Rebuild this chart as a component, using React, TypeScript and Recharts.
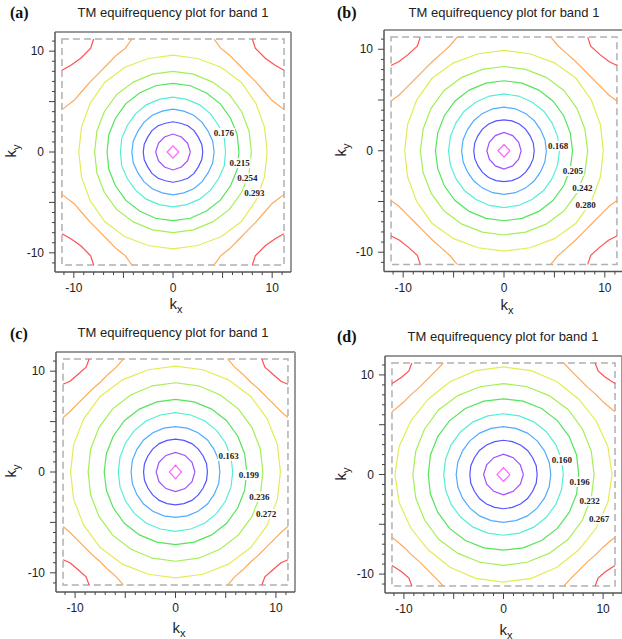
import React from 'react';
import { ScatterChart, Scatter, XAxis, YAxis, ReferenceArea, ReferenceLine } from 'recharts';

// ---------- data ----------
// ring colours, innermost to outermost, then the two open corner contours
const ringColors = ['#ff66ff', '#a050ff', '#5555ff', '#50acff', '#55eed4', '#55e45a', '#a6ee55', '#e2ec55'];
const orangeColor = '#ffaa5a';
const redColor = '#ff5050';

// radius (k units) of each closed contour, sampled at evenly spaced directions from 0° to 90°
const radiiA = [
  [0.6, 0.42, 0.6],
  [1.75, 1.7, 1.72, 1.78],
  [3.0, 3.0, 2.95, 3.0, 3.0, 2.95, 3.0],
  [4.15, 4.15, 4.1, 4.15, 4.2, 4.2, 4.25],
  [5.3, 5.35, 5.3, 5.35, 5.4, 5.4, 5.45],
  [6.65, 6.7, 6.7, 6.75, 6.75, 6.8, 6.8],
  [7.9, 7.95, 8.0, 8.05, 8.0, 8.0, 8.0],
  [9.5, 9.55, 9.65, 9.75, 9.7, 9.6, 9.6],
];
const radiiB = [
  [0.6, 0.42, 0.62],
  [1.7, 1.68, 1.72, 1.8],
  [3.0, 3.0, 2.98, 3.02, 3.05, 3.05, 3.05],
  [4.2, 4.2, 4.18, 4.22, 4.25, 4.28, 4.3],
  [5.5, 5.5, 5.5, 5.55, 5.55, 5.58, 5.6],
  [6.8, 6.8, 6.85, 6.9, 6.9, 6.9, 6.9],
  [8.3, 8.3, 8.35, 8.4, 8.35, 8.3, 8.3],
  [9.85, 9.9, 10.0, 10.1, 10.0, 9.9, 9.9],
];
const radiiC = [
  [0.62, 0.45, 0.68],
  [1.93, 1.9, 1.9, 1.95],
  [3.18, 3.2, 3.18, 3.22, 3.25, 3.25, 3.25],
  [4.42, 4.45, 4.45, 4.5, 4.5, 4.5, 4.5],
  [5.7, 5.72, 5.75, 5.8, 5.85, 5.85, 5.88],
  [7.1, 7.12, 7.15, 7.2, 7.2, 7.2, 7.2],
  [8.7, 8.75, 8.8, 8.85, 8.85, 8.85, 8.85],
  [10.45, 10.5, 10.55, 10.6, 10.55, 10.5, 10.5],
];
const radiiD = [
  [0.65, 0.47, 0.68],
  [2.0, 1.95, 1.95, 2.05],
  [3.38, 3.4, 3.38, 3.42, 3.42, 3.42, 3.44],
  [4.75, 4.75, 4.75, 4.78, 4.8, 4.8, 4.8],
  [6.0, 6.02, 6.05, 6.08, 6.1, 6.1, 6.1],
  [7.55, 7.6, 7.62, 7.65, 7.65, 7.62, 7.6],
  [9.1, 9.12, 9.15, 9.2, 9.15, 9.12, 9.13],
  [10.9, 10.85, 10.75, 10.7, 10.75, 10.8, 10.8],
];

// open contours near the zone corner (top-left corner, mirrored to the others)
const orangeA = [[-4.15, 11.2], [-4.8, 10.3], [-5.7, 9.6], [-6.7, 8.6], [-7.5, 7.8], [-8.4, 6.9], [-9.2, 6.0], [-10.0, 5.1], [-11.2, 4.2]];
const redA = [[-8.0, 11.2], [-8.3, 10.3], [-9.3, 9.3], [-10.3, 8.6], [-11.2, 8.1]];
const orangeB = [[-4.65, 11.2], [-5.3, 10.4], [-6.2, 9.6], [-7.1, 8.8], [-7.9, 8.0], [-8.8, 7.1], [-9.6, 6.3], [-10.4, 5.5], [-11.2, 4.9]];
const redB = [[-8.3, 11.2], [-8.6, 10.3], [-9.5, 9.5], [-10.4, 8.8], [-11.2, 8.4]];
const orangeC = [[-5.2, 11.2], [-5.9, 10.4], [-6.7, 9.7], [-7.5, 8.9], [-8.3, 8.2], [-9.1, 7.4], [-9.9, 6.6], [-10.6, 5.9], [-11.2, 5.4]];
const redC = [[-8.6, 11.2], [-8.9, 10.4], [-9.7, 9.7], [-10.5, 9.0], [-11.2, 8.7]];
const orangeD = [[-6.05, 11.2], [-6.8, 10.4], [-7.6, 9.6], [-8.4, 8.8], [-9.2, 8.1], [-10.0, 7.3], [-10.7, 6.7], [-11.2, 6.3]];
const redD = [[-9.2, 11.2], [-9.5, 10.4], [-10.2, 9.8], [-10.8, 9.4], [-11.2, 9.15]];

// contour level labels and where they sit (kx, ky)
const levelTextA = ['0.176', '0.215', '0.254', '0.293'];
const levelTextB = ['0.168', '0.205', '0.242', '0.280'];
const levelTextC = ['0.163', '0.199', '0.236', '0.272'];
const levelTextD = ['0.160', '0.196', '0.232', '0.267'];
const levelAtA = [[5.13, 1.9], [6.73, -1.1], [7.5, -2.6], [8.2, -4.1]];
const levelAtB = [[5.36, 0.5], [6.84, -2.0], [7.77, -3.68], [8.1, -5.33]];
const levelAtC = [[5.3, 1.6], [7.3, -0.3], [8.36, -2.46], [9.02, -4.15]];
const levelAtD = [[5.87, 1.44], [7.64, -0.74], [8.64, -2.65], [9.6, -4.5]];

// axis ticks
const tickValues = [-11, -10, -9, -8, -7, -6, -5, -4, -3, -2, -1, 0, 1, 2, 3, 4, 5, 6, 7, 8, 9, 10, 11];
const tickLabels = [-10, 0, 10];
const axisDomain = [-11.9, 11.9];
const zoneBox = [-11.2, 11.2];

const titleText = 'TM equifrequency plot for band 1';

// ---------- helpers ----------
function ringPoints(r: number[]) {
  const n = r.length - 1;
  const step = 90 / n;
  const pts: { x: number; y: number }[] = [];
  for (let k = 0; k <= 4 * n; k++) {
    const m = k % (2 * n);
    const rad = m <= n ? r[m] : r[2 * n - m];
    const a = (k * step * Math.PI) / 180;
    pts.push({ x: rad * Math.cos(a), y: rad * Math.sin(a) });
  }
  return pts;
}

function cornerCopies(pts: number[][]) {
  const out: { x: number; y: number }[][] = [];
  for (const sx of [1, -1]) {
    for (const sy of [1, -1]) {
      out.push(pts.map(([x, y]) => ({ x: x * sx, y: y * sy })));
    }
  }
  return out;
}

const SANS = '"Liberation Sans", Arial, sans-serif';
const SERIF = '"Liberation Serif", "Times New Roman", serif';

const XTick = (props: any) => {
  const { x, y, payload } = props;
  const v = payload.value;
  const major = v % 5 === 0;
  return (
    <g>
      <line x1={x} x2={x} y1={y} y2={y + (major ? 6 : 3)} stroke="#444" strokeWidth={1} />
      {tickLabels.includes(v) && (
        <text x={x} y={y + 16} textAnchor="middle" dominantBaseline="central" fontFamily={SANS} fontSize={12} fill="#222">
          {String(v)}
        </text>
      )}
    </g>
  );
};

const YTick = (props: any) => {
  const { x, y, payload } = props;
  const v = payload.value;
  const major = v % 5 === 0;
  return (
    <g>
      <line x1={x} x2={x - (major ? 6 : 3)} y1={y} y2={y} stroke="#444" strokeWidth={1} />
      {tickLabels.includes(v) && (
        <text x={x - 11} y={y} textAnchor="end" dominantBaseline="central" fontFamily={SANS} fontSize={12} fill="#222">
          {String(v)}
        </text>
      )}
    </g>
  );
};

const NoDot = () => <g />;

const LevelLabel = (props: any) => {
  const { cx, cy, payload } = props;
  return (
    <g>
      <rect x={cx - 11} y={cy - 5} width={22} height={10} fill="#fff" />
      <text x={cx} y={cy} textAnchor="middle" dominantBaseline="central" fontFamily={SERIF} fontWeight="bold" fontSize={9} fill="#222">
        {payload.text}
      </text>
    </g>
  );
};

type Layout = {
  frame: { x: number; y: number; w: number; h: number };
  letter: { x: number; y: number };
  title: { x: number; y: number };
  ky: { x: number; y: number };
  kx: { x: number; y: number };
};

function Panel({ letter, layout, radii, orange, red, levelText, levelAt }: {
  letter: string; layout: Layout; radii: number[][]; orange: number[][]; red: number[][];
  levelText: string[]; levelAt: number[][];
}) {
  const yAxisW = 55;
  const xAxisH = 50;
  const pad = 5;
  const { frame } = layout;
  const width = yAxisW + frame.w + pad;
  const height = pad + frame.h + xAxisH;
  const labelData = levelText.map((t, i) => ({ x: levelAt[i][0], y: levelAt[i][1], text: t }));
  const lw = 1.2;
  return (
    <>
      <div style={{ position: 'absolute', left: layout.letter.x, top: layout.letter.y - 10, lineHeight: '20px', fontFamily: SERIF, fontWeight: 'bold', fontSize: 16, color: '#111' }}>
        {letter}
      </div>
      <div style={{ position: 'absolute', left: layout.title.x - 150, width: 300, top: layout.title.y - 9, lineHeight: '18px', textAlign: 'center', fontFamily: SANS, fontSize: 13, color: '#222', whiteSpace: 'nowrap' }}>
        {titleText}
      </div>
      <div style={{ position: 'absolute', left: layout.ky.x, top: layout.ky.y, transform: 'translate(-50%, -50%) rotate(-90deg)', fontFamily: SANS, fontSize: 15, color: '#222', whiteSpace: 'nowrap', lineHeight: '14px' }}>
        k<sub style={{ fontSize: 11, lineHeight: '10px' }}>y</sub>
      </div>
      <div style={{ position: 'absolute', left: layout.kx.x, top: layout.kx.y, transform: 'translate(-50%, -50%)', fontFamily: SANS, fontSize: 15, color: '#222', whiteSpace: 'nowrap', lineHeight: '14px' }}>
        k<sub style={{ fontSize: 11, lineHeight: '10px' }}>x</sub>
      </div>
      <div style={{ position: 'absolute', left: frame.x - yAxisW, top: frame.y - pad }}>
        <ScatterChart width={width} height={height} margin={{ top: pad, right: pad, bottom: 0, left: 0 }}>
          <XAxis type="number" dataKey="x" domain={axisDomain} ticks={tickValues} interval={0} allowDataOverflow
            height={xAxisH} tickSize={0} tickMargin={0} tick={<XTick />} axisLine={{ stroke: '#555', strokeWidth: 1.5 }} />
          <YAxis type="number" dataKey="y" domain={axisDomain} ticks={tickValues} interval={0} allowDataOverflow
            width={yAxisW} tickSize={0} tickMargin={0} tick={<YTick />} axisLine={{ stroke: '#555', strokeWidth: 1.5 }} />
          <ReferenceLine y={axisDomain[1]} stroke="#999" strokeWidth={2} />
          <ReferenceLine x={axisDomain[1]} stroke="#999" strokeWidth={2} />
          <ReferenceArea x1={zoneBox[0]} x2={zoneBox[1]} y1={zoneBox[0]} y2={zoneBox[1]} fill="none" fillOpacity={0}
            stroke="#b0b0b0" strokeWidth={1.5} strokeDasharray="7 4" />
          {radii.map((r, i) => (
            <Scatter key={'ring' + i} data={ringPoints(r)} shape={NoDot} line={{ stroke: ringColors[i], strokeWidth: lw }} isAnimationActive={false} />
          ))}
          {cornerCopies(orange).map((d, i) => (
            <Scatter key={'or' + i} data={d} shape={NoDot} line={{ stroke: orangeColor, strokeWidth: lw }} isAnimationActive={false} />
          ))}
          {cornerCopies(red).map((d, i) => (
            <Scatter key={'rd' + i} data={d} shape={NoDot} line={{ stroke: redColor, strokeWidth: lw }} isAnimationActive={false} />
          ))}
          <Scatter data={labelData} shape={LevelLabel} isAnimationActive={false} />
        </ScatterChart>
      </div>
    </>
  );
}

const layoutA: Layout = { frame: { x: 55, y: 31.7, w: 236, h: 240 }, letter: { x: 10, y: 13 }, title: { x: 173, y: 13 }, ky: { x: 12, y: 151 }, kx: { x: 176, y: 305 } };
const layoutB: Layout = { frame: { x: 384, y: 29.5, w: 240, h: 241.5 }, letter: { x: 337, y: 13 }, title: { x: 504, y: 13 }, ky: { x: 342, y: 150 }, kx: { x: 507, y: 306 } };
const layoutC: Layout = { frame: { x: 56, y: 351.7, w: 239, h: 240 }, letter: { x: 10, y: 334 }, title: { x: 173, y: 333 }, ky: { x: 12, y: 471 }, kx: { x: 179, y: 629 } };
const layoutD: Layout = { frame: { x: 385, y: 356, w: 237, h: 237 }, letter: { x: 337, y: 337 }, title: { x: 503, y: 337 }, ky: { x: 342, y: 474 }, kx: { x: 506, y: 631 } };

export default function App() {
  return (
    <div style={{ position: 'absolute', left: 0, top: 0, width: 622, height: 639, overflow: 'hidden', background: '#fff' }}>
      <Panel letter="(a)" layout={layoutA} radii={radiiA} orange={orangeA} red={redA} levelText={levelTextA} levelAt={levelAtA} />
      <Panel letter="(b)" layout={layoutB} radii={radiiB} orange={orangeB} red={redB} levelText={levelTextB} levelAt={levelAtB} />
      <Panel letter="(c)" layout={layoutC} radii={radiiC} orange={orangeC} red={redC} levelText={levelTextC} levelAt={levelAtC} />
      <Panel letter="(d)" layout={layoutD} radii={radiiD} orange={orangeD} red={redD} levelText={levelTextD} levelAt={levelAtD} />
    </div>
  );
}
